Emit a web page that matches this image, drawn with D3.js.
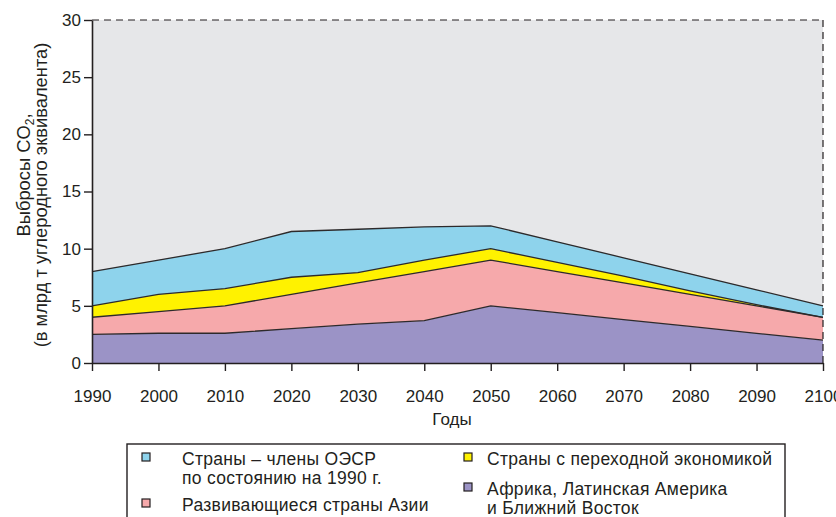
<!DOCTYPE html>
<html>
<head>
<meta charset="utf-8">
<script src="https://cdn.jsdelivr.net/npm/d3@7"></script>
<style>
  body { margin: 0; background: #fff; }
  text { font-family: "Liberation Sans", Arial, sans-serif; fill: #231f20; }
</style>
</head>
<body>
<div id="chart"></div>
<script>
// data (mlrd t carbon equivalent)
var years = [1990, 2000, 2010, 2020, 2030, 2040, 2050, 2060, 2070, 2080, 2090, 2100];
var africa = [2.5, 2.6, 2.6, 3.0, 3.4, 3.7, 5.0, 4.4, 3.8, 3.2, 2.6, 2.0];
var asia = [1.5, 1.9, 2.4, 3.0, 3.6, 4.3, 4.0, 3.6, 3.2, 2.8, 2.4, 2.0];
var transition = [1.0, 1.5, 1.5, 1.5, 0.9, 1.0, 1.0, 0.8, 0.6, 0.3, 0.1, 0.0];
var oecd = [3.0, 3.0, 3.5, 4.0, 3.8, 2.9, 2.0, 1.8, 1.6, 1.5, 1.3, 1.0];
var yTicks = [0, 5, 10, 15, 20, 25, 30];

var keys = ["africa", "asia", "transition", "oecd"];
var colors = {africa: "#9b93c6", asia: "#f6a9ab", transition: "#fff200", oecd: "#8ed3ec"};

var rows = years.map(function(y, i) {
  return {year: y, africa: africa[i], asia: asia[i], transition: transition[i], oecd: oecd[i]};
});

var W = 836, H = 517;
var margin = {top: 20, right: 13, bottom: 154, left: 92},
    width = W - margin.left - margin.right,
    height = H - margin.top - margin.bottom;

var svg = d3.select("#chart")
  .append("svg")
    .attr("width", W)
    .attr("height", H)
  .append("g")
    .attr("transform", "translate(" + margin.left + "," + margin.top + ")");

var xScale = d3.scaleLinear().domain([1990, 2100]).range([0, width]);
var yScale = d3.scaleLinear().domain([0, 30]).range([height, 0]);

// grey plot background
svg.append("rect")
  .attr("x", 0).attr("y", 0)
  .attr("width", width).attr("height", height)
  .attr("fill", "#e6e7e9");

var series = d3.stack().keys(keys)(rows);

var area = d3.area()
  .x(function(d) { return xScale(d.data.year); })
  .y0(function(d) { return yScale(d[0]); })
  .y1(function(d) { return yScale(d[1]); });

var topLine = d3.line()
  .x(function(d) { return xScale(d.data.year); })
  .y(function(d) { return yScale(d[1]); });

svg.selectAll(".layer")
  .data(series)
  .enter()
  .append("path")
    .attr("class", "layer")
    .attr("d", area)
    .attr("fill", function(d) { return colors[d.key]; });

svg.selectAll(".edge")
  .data(series)
  .enter()
  .append("path")
    .attr("class", "edge")
    .attr("d", topLine)
    .attr("fill", "none")
    .attr("stroke", "#2d2a2b")
    .attr("stroke-width", 1.3);

// dashed frame top and right
svg.append("line")
  .attr("x1", 0).attr("x2", width)
  .attr("y1", 0).attr("y2", 0)
  .attr("stroke", "#231f20").attr("stroke-width", 1.2)
  .attr("stroke-dasharray", "7,5");
svg.append("line")
  .attr("x1", width).attr("x2", width)
  .attr("y1", 0).attr("y2", height)
  .attr("stroke", "#231f20").attr("stroke-width", 1.2)
  .attr("stroke-dasharray", "7,5");

// axes
var xAxis = d3.axisBottom(xScale)
  .tickValues(years)
  .tickFormat(d3.format("d"))
  .tickSize(8)
  .tickSizeOuter(0);
var yAxis = d3.axisLeft(yScale)
  .tickValues(yTicks)
  .tickSize(8)
  .tickSizeOuter(0);

var gx = svg.append("g")
  .attr("transform", "translate(0," + height + ")")
  .call(xAxis);
var gy = svg.append("g").call(yAxis);

[gx, gy].forEach(function(g) {
  g.select(".domain").attr("stroke", "#231f20").attr("stroke-width", 1.6);
  g.selectAll(".tick line").attr("stroke", "#231f20").attr("stroke-width", 1.4);
  g.selectAll(".tick text")
    .attr("font-size", 17)
    .attr("font-family", "Liberation Sans, Arial, sans-serif")
    .attr("fill", "#231f20");
});
gx.selectAll(".tick text").attr("dy", "0").attr("y", 39);
gy.selectAll(".tick text").attr("x", -11);

// scale a text's font so it spans roughly the width seen in the picture
function fitWidth(sel, target) {
  var len = sel.node().getComputedTextLength();
  var fs = parseFloat(sel.attr("font-size"));
  if (len > 0) sel.attr("font-size", Math.min(20, Math.max(15, fs * target / len)));
}

// axis titles
var yTitle = svg.append("text")
  .attr("transform", "translate(-62,155) rotate(-90)")
  .attr("text-anchor", "middle")
  .attr("font-size", 17.5);
yTitle.append("tspan").attr("x", 0).attr("dy", 0).text("Выбросы CO");
yTitle.append("tspan").attr("font-size", 12).attr("dy", 4).text("2");
yTitle.append("tspan").attr("dy", -4).text(",");
var yTitle2 = svg.append("text")
  .attr("transform", "translate(-45,175) rotate(-90)")
  .attr("text-anchor", "middle")
  .attr("font-size", 17.5)
  .text("(в млрд т углеродного эквивалента)");
fitWidth(yTitle2, 305);
yTitle.attr("font-size", yTitle2.attr("font-size"));

svg.append("text")
  .attr("x", 360).attr("y", height + 62)
  .attr("text-anchor", "middle")
  .attr("font-size", 17)
  .text("Годы");

// legend
var legend = d3.select("svg").append("g");
legend.append("rect")
  .attr("x", 127).attr("y", 444)
  .attr("width", 658).attr("height", 90)
  .attr("fill", "#fff")
  .attr("stroke", "#231f20").attr("stroke-width", 1.4);

var legendItems = [
  {key: "oecd", x: 142, tx: 182, y: 453, lines: ["Страны – члены ОЭСР", "по состоянию на 1990 г."]},
  {key: "asia", x: 142, tx: 182, y: 499, lines: ["Развивающиеся страны Азии"]},
  {key: "transition", x: 464, tx: 487, y: 453, lines: ["Страны с переходной экономикой"]},
  {key: "africa", x: 464, tx: 487, y: 483, lines: ["Африка, Латинская Америка", "и Ближний Восток"]}
];

var li = legend.selectAll(".item")
  .data(legendItems)
  .enter()
  .append("g")
    .attr("class", "item");
li.append("rect")
  .attr("x", function(d) { return d.x; })
  .attr("y", function(d) { return d.y; })
  .attr("width", 8).attr("height", 8)
  .attr("fill", function(d) { return colors[d.key]; })
  .attr("stroke", "#231f20").attr("stroke-width", 1.2);
li.each(function(d) {
  var t = d3.select(this).append("text")
    .attr("font-size", 17.5)
    .attr("letter-spacing", 0.3);
  d.lines.forEach(function(line, i) {
    t.append("tspan")
      .attr("x", d.tx)
      .attr("y", d.y + 12 + i * 18.5)
      .text(line);
  });
});
</script>
</body>
</html>
